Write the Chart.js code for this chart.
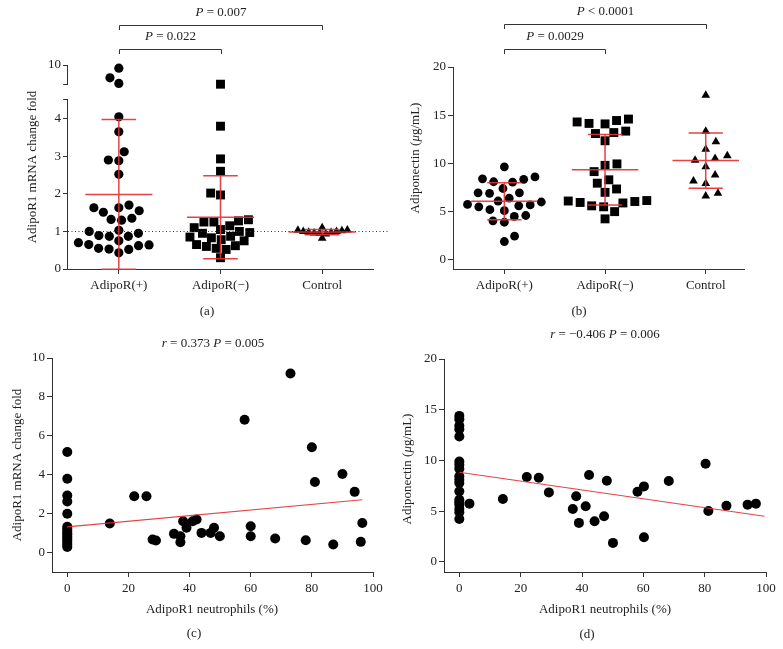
<!DOCTYPE html>
<html>
<head>
<meta charset="utf-8">
<script src="https://cdn.jsdelivr.net/npm/chart.js@4.4.1/dist/chart.umd.min.js"></script>
<style>
    html, body { margin: 0; padding: 0; background: #fff; }
    #fig { position: relative; width: 783px; height: 649px; }
    #fig canvas { position: absolute; left: 0; top: 0; }
</style>
</head>
<body>
<div id="fig">
    <canvas id="chartA" width="783" height="649"></canvas>
    <canvas id="chartB" width="783" height="649"></canvas>
    <canvas id="chartC" width="783" height="649"></canvas>
    <canvas id="chartD" width="783" height="649"></canvas>
</div>
<script>
var groups = ['AdipoR(+)', 'AdipoR(\u2212)', 'Control'];

// (a) AdipoR1 mRNA change fold
var mrnaPos = [9.2, 6.8, 5.4, 4.05, 3.65, 3.12, 2.9, 2.88, 2.52, 1.7, 1.63, 1.63, 1.55, 1.51, 1.35, 1.32, 1.3,
    1.03, 1.0, 0.95, 0.89, 0.87, 0.87, 0.75, 0.7, 0.65, 0.64, 0.62, 0.55, 0.53, 0.52, 0.43];
var mrnaNeg = [5.2, 3.8, 2.93, 2.6, 2.02, 1.97, 1.31, 1.28, 1.25, 1.25, 1.15, 1.1, 1.05, 1.0, 0.97, 0.95,
    0.87, 0.85, 0.83, 0.78, 0.75, 0.65, 0.62, 0.6, 0.55, 0.52, 0.3];
var mrnaCtrl = [1.0, 0.97, 1.02, 0.95, 1.04, 0.93, 1.0, 1.1, 0.82, 0.98, 1.03, 0.96];
var mrnaTicks = [0, 1, 2, 3, 4, 10];
var mrnaBreak = [4.5, 5];

// (b) adiponectin, ug/mL
var adipoPos = [9.65, 8.6, 8.35, 8.05, 8.1, 8.4, 7.4, 6.95, 6.9, 6.95, 6.4, 6.1, 6.0, 5.6, 5.7, 5.5, 5.75,
    5.1, 5.2, 4.6, 4.05, 3.9, 4.5, 1.9, 2.45];
var adipoNeg = [14.6, 14.3, 14.1, 14.15, 14.45, 13.35, 13.1, 13.2, 12.35, 9.8, 9.95, 9.15, 8.3, 7.95, 7.0,
    7.35, 6.05, 5.5, 5.6, 5.95, 6.1, 4.25, 5.0, 5.9, 6.15];
var adipoCtrl = [17.07, 13.34, 12.24, 11.48, 10.52, 10.34, 10.79, 9.66, 8.79, 8.17, 7.93, 6.62, 6.9];
var adipoTicks = [0, 5, 10, 15, 20];

// (c) neutrophils % vs mRNA fold
var neutroC = [0, 0, 0, 0, 0, 0, 0, 0, 0, 0, 0, 0, 0, 0, 0, 0,
    13.9, 21.9, 25.9, 27.9, 29, 34.9, 37, 37, 37.9, 39, 41, 42.3, 43.9, 46.9, 48, 49.9,
    58, 60, 60, 68, 73, 78, 80, 81, 87, 90, 94, 96, 96.5];
var mrnaC = [5.17, 3.79, 2.93, 2.62, 1.99, 1.33, 1.22, 1.12, 1.0, 0.93, 0.82, 0.72, 0.62, 0.5, 0.4, 0.29,
    1.49, 2.89, 2.89, 0.67, 0.62, 0.96, 0.84, 0.53, 1.61, 1.27, 1.61, 1.7, 1.01, 1.01, 1.27, 0.84,
    6.83, 1.35, 0.84, 0.72, 9.2, 0.63, 5.41, 3.63, 0.41, 4.04, 3.12, 0.55, 1.52];
var fitCX = [0, 96.5];
var fitCY = [1.32, 2.71];
var mrnaTicksC = [0, 2, 4, 6, 8, 10];

// (d) neutrophils % vs adiponectin
var neutroD = [0, 0, 0, 0, 0, 0, 0, 0, 0, 0, 0, 0, 0, 0, 0, 0, 0, 0,
    3.3, 14.2, 22, 25.9, 29.2, 37, 38.1, 39, 41.2, 42.3, 44.1, 47.2, 48.1, 50.1,
    58.1, 60.2, 60.2, 68.3, 80.3, 81.2, 87.1, 94, 96.7];
var adipoD = [14.39, 14.07, 13.41, 13.08, 12.36, 9.9, 9.57, 9.18, 8.43, 8.1, 7.77, 6.95, 6.13, 5.87, 5.64, 5.21, 4.89, 4.23,
    5.74, 6.2, 8.36, 8.3, 6.85, 5.21, 6.46, 3.84, 5.48, 8.56, 4.0, 4.49, 8.0, 1.87,
    6.92, 7.44, 2.43, 7.97, 9.67, 5.02, 5.54, 5.64, 5.74];
var fitDX = [0, 99.5];
var fitDY = [8.84, 4.49];
var neutroTicks = [0, 20, 40, 60, 80, 100];

var SERIF = '"Liberation Serif", "Times New Roman", serif';
var INK = '#222';
var RED = 'rgba(226, 50, 52, 0.92)';
var YW = 40, XH = 30;   // fixed axis box sizes, so plot areas land where the figure has them

Chart.defaults.font.family = SERIF;
Chart.defaults.font.size = 13;
Chart.defaults.color = INK;

// y axis with a gap between mrnaBreak[0] and mrnaBreak[1]
var BRK_LOW = 0.829, BRK_GAP = 0.073;
class BrokenScale extends Chart.LinearScale {
    getPixelForValue(v) {
        var h = this.bottom - this.top, lowH = h * BRK_LOW, gapH = h * BRK_GAP, upH = h - lowH - gapH;
        var a = mrnaBreak[0], b = mrnaBreak[1];
        if (v <= a) return this.bottom - (v - this.min) / (a - this.min) * lowH;
        if (v >= b) return this.top + (this.max - v) / (this.max - b) * upH;
        return this.bottom - lowH - (v - a) / (b - a) * gapH;
    }
    getValueForPixel(p) {
        var h = this.bottom - this.top, lowH = h * BRK_LOW, gapH = h * BRK_GAP, upH = h - lowH - gapH;
        var a = mrnaBreak[0], b = mrnaBreak[1];
        if (p >= this.bottom - lowH) return this.min + (this.bottom - p) / lowH * (a - this.min);
        if (p <= this.top + upH) return this.max - (p - this.top) / upH * (this.max - b);
        return a + (this.bottom - lowH - p) / gapH * (b - a);
    }
}
BrokenScale.id = 'broken';
BrokenScale.defaults = Chart.LinearScale.defaults;
Chart.register(BrokenScale);

function mean(v) { return v.reduce(function (s, x) { return s + x; }, 0) / v.length; }
function sd(v) {
    var m = mean(v);
    return Math.sqrt(v.reduce(function (s, x) { return s + (x - m) * (x - m); }, 0) / (v.length - 1));
}

// "*P* = 0.007" -> italic P, upright rest
function drawRuns(ctx, str, x, y, rot) {
    var parts = str.split('*');
    var font = function (i) { return (i % 2 ? 'italic ' : '') + '13px ' + SERIF; };
    ctx.save();
    ctx.translate(x, y);
    if (rot) ctx.rotate(rot);
    var total = 0;
    parts.forEach(function (p, i) { ctx.font = font(i); total += ctx.measureText(p).width; });
    var cx = -total / 2;
    ctx.fillStyle = INK;
    ctx.textAlign = 'left';
    ctx.textBaseline = 'middle';
    parts.forEach(function (p, i) { ctx.font = font(i); ctx.fillText(p, cx, 0); cx += ctx.measureText(p).width; });
    ctx.restore();
}

function decor(cfg) {
    return {
        id: 'decor',
        afterDraw: function (chart) {
            var ctx = chart.ctx, xs = chart.scales.x, ys = chart.scales.y, area = chart.chartArea;
            ctx.save();
            ctx.strokeStyle = '#333';
            ctx.lineWidth = 1;
            (cfg.brackets || []).forEach(function (b) {
                var x1 = Math.round(xs.getPixelForValue(b.from)) + 0.5, x2 = Math.round(xs.getPixelForValue(b.to)) + 0.5;
                ctx.beginPath();
                ctx.moveTo(x1, b.y + 5); ctx.lineTo(x1, b.y + 0.5); ctx.lineTo(x2, b.y + 0.5); ctx.lineTo(x2, b.y + 5);
                ctx.stroke();
                drawRuns(ctx, b.label, (x1 + x2) / 2, b.y - 12);
            });
            if (cfg.refLine != null) {
                var ry = Math.round(ys.getPixelForValue(cfg.refLine)) + 0.5;
                ctx.setLineDash([1, 2.5]);
                ctx.beginPath(); ctx.moveTo(area.left, ry); ctx.lineTo(area.right + 16, ry); ctx.stroke();
                ctx.setLineDash([]);
            }
            if (cfg.brokenAxis) {
                var ax = Math.round(area.left) - 0.5;
                ctx.beginPath();
                ctx.moveTo(ax, ys.getPixelForValue(ys.min)); ctx.lineTo(ax, ys.getPixelForValue(mrnaBreak[0]));
                ctx.moveTo(ax, ys.getPixelForValue(mrnaBreak[1])); ctx.lineTo(ax, ys.getPixelForValue(ys.max));
                ctx.stroke();
            }
            (cfg.texts || []).forEach(function (t) { drawRuns(ctx, t.s, t.x, t.y, t.rot); });
            ctx.restore();
        }
    };
}

function axis(type, min, max, ticks, labelFn, yAxis, extra) {
    var o = {
        type: type, min: min, max: max,
        border: { display: true, color: '#333', width: 1 },
        grid: { drawOnChartArea: false, drawTicks: true, tickLength: 5, tickColor: '#333' },
        ticks: { color: INK, padding: yAxis ? 2 : 4, maxRotation: 0, autoSkip: false, callback: labelFn },
        afterBuildTicks: function (s) { s.ticks = ticks.map(function (v) { return { value: v }; }); },
        afterFit: yAxis
            ? function (s) { s.width = YW; s.paddingTop = 0; s.paddingBottom = 0; }
            : function (s) { s.height = XH; s.paddingLeft = 0; s.paddingRight = 0; }
    };
    return Object.assign(o, extra || {});
}

function baseOptions(area, scales) {
    return {
        responsive: false, animation: false, events: [],
        layout: { padding: { left: area.l - YW, top: area.t, right: 783 - area.r, bottom: 649 - area.b - XH } },
        plugins: { legend: { display: false }, tooltip: { enabled: false } },
        scales: scales
    };
}

// greedy beeswarm: offsets in x units so markers of one group do not overlap
function swarm(values, pxPerUnit, toPx, sep) {
    var order = values.map(function (v, i) { return i; }).sort(function (a, b) { return values[a] - values[b]; });
    var placed = [], out = [], flip = 1;
    order.forEach(function (i) {
        var y = toPx(values[i]), cands = [0];
        placed.forEach(function (p) {
            var dy = Math.abs(p.y - y);
            if (dy < sep) { var d = Math.sqrt(sep * sep - dy * dy); cands.push(p.x + d, p.x - d); }
        });
        var ok = cands.filter(function (c) {
            return placed.every(function (p) { return (p.x - c) * (p.x - c) + (p.y - y) * (p.y - y) >= sep * sep - 0.01; });
        });
        ok.sort(function (a, b) {
            var d = Math.abs(a) - Math.abs(b);
            if (Math.abs(d) > 0.01) return d;
            return flip > 0 ? b - a : a - b;
        });
        var x = ok[0];
        if (Math.abs(x) > 0.01) flip = -flip;
        placed.push({ x: x, y: y });
        out[i] = x / pxPerUnit;
    });
    return out;
}

function errorBars(series) {
    var pts = [];
    series.forEach(function (v, i) {
        var m = mean(v), s = sd(v);
        pts.push({ x: i - 0.33, y: m }, { x: i + 0.33, y: m }, { x: i, y: null },
            { x: i, y: m - s }, { x: i, y: m + s }, { x: i, y: null },
            { x: i - 0.17, y: m + s }, { x: i + 0.17, y: m + s }, { x: i, y: null },
            { x: i - 0.17, y: m - s }, { x: i + 0.17, y: m - s }, { x: i, y: null });
    });
    return pts;
}

function dotPlot(id, cfg) {
    var datasets = [{
        type: 'line', data: errorBars(cfg.series), borderColor: RED, borderWidth: 1.5,
        pointRadius: 0, showLine: true, spanGaps: false, order: 0, clip: false
    }];
    cfg.series.forEach(function (vals, i) {
        datasets.push({
            data: vals.map(function (v) { return { x: i, y: v }; }),
            pointStyle: cfg.styles[i], pointRadius: cfg.radius[i],
            backgroundColor: '#000', borderColor: '#000', borderWidth: 0, order: 1, clip: false
        });
    });
    var xAxis = axis('linear', cfg.xMin, cfg.xMax, groups.map(function (g, i) { return i; }),
        function (v) { return groups[v] || ''; }, false);
    var chart = new Chart(document.getElementById(id), {
        type: 'scatter',
        data: { datasets: datasets },
        options: baseOptions(cfg.area, { x: xAxis, y: cfg.yAxis }),
        plugins: [decor(cfg.decor)]
    });
    var xs = chart.scales.x, ys = chart.scales.y;
    var ppu = xs.getPixelForValue(1) - xs.getPixelForValue(0);
    cfg.series.forEach(function (vals, i) {
        var off = swarm(vals, ppu, function (v) { return ys.getPixelForValue(v); }, cfg.sep[i]);
        chart.data.datasets[i + 1].data = vals.map(function (v, k) { return { x: i + off[k], y: v }; });
    });
    chart.update('none');
}

function corrPlot(id, cfg) {
    new Chart(document.getElementById(id), {
        type: 'scatter',
        data: {
            datasets: [{
                type: 'line', data: cfg.fitX.map(function (x, i) { return { x: x, y: cfg.fitY[i] }; }),
                borderColor: RED, borderWidth: 1.1, pointRadius: 0, showLine: true, order: 0
            }, {
                data: cfg.x.map(function (x, i) { return { x: x, y: cfg.y[i] }; }),
                pointStyle: 'circle', pointRadius: 5, backgroundColor: '#000', borderWidth: 0, order: 1, clip: false
            }]
        },
        options: baseOptions(cfg.area, {
            x: axis('linear', -5, 100, neutroTicks, function (v) { return String(v); }, false),
            y: axis('linear', cfg.yMin, cfg.yMax, cfg.yTicks, function (v) { return String(v); }, true)
        }),
        plugins: [decor(cfg.decor)]
    });
}

var ROT = -Math.PI / 2;

dotPlot('chartA', {
    area: { l: 68, t: 65, r: 373, b: 269 },
    xMin: -0.5, xMax: 2.5,
    series: [mrnaPos, mrnaNeg, mrnaCtrl],
    styles: ['circle', 'rect', 'triangle'],
    radius: [4.6, 6.3, 5],
    sep: [10.5, 10, 5.5],
    yAxis: axis('broken', 0, 10, mrnaTicks.concat(mrnaBreak).sort(function (a, b) { return a - b; }),
        function (v) { return mrnaTicks.indexOf(v) >= 0 ? String(v) : ''; }, true,
        { border: { display: false } }),
    decor: {
        refLine: 1, brokenAxis: true,
        brackets: [{ from: 0, to: 2, y: 25, label: '*P* = 0.007' }, { from: 0, to: 1, y: 49, label: '*P* = 0.022' }],
        texts: [{ s: 'AdipoR1 mRNA change fold', x: 33, y: 167, rot: ROT }, { s: '(a)', x: 207, y: 312 }]
    }
});

dotPlot('chartB', {
    area: { l: 453, t: 67, r: 744, b: 269 },
    xMin: -0.51, xMax: 2.38,
    series: [adipoPos, adipoNeg, adipoCtrl],
    styles: ['circle', 'rect', 'triangle'],
    radius: [4.4, 6.3, 5],
    sep: [11.5, 12, 12.5],
    yAxis: axis('linear', -0.95, 20, adipoTicks, function (v) { return String(v); }, true),
    decor: {
        brackets: [{ from: 0, to: 2, y: 24, label: '*P* < 0.0001' }, { from: 0, to: 1, y: 49, label: '*P* = 0.0029' }],
        texts: [{ s: 'Adiponectin (*\u03bc*g/mL)', x: 416, y: 158, rot: ROT }, { s: '(b)', x: 579, y: 312 }]
    }
});

corrPlot('chartC', {
    area: { l: 52, t: 358, r: 373, b: 572 },
    x: neutroC, y: mrnaC, fitX: fitCX, fitY: fitCY,
    yMin: -1, yMax: 10, yTicks: mrnaTicksC,
    decor: {
        texts: [
            { s: '*r* = 0.373 *P* = 0.005', x: 213, y: 344 },
            { s: 'AdipoR1 neutrophils (%)', x: 212, y: 610 },
            { s: 'AdipoR1 mRNA change fold', x: 18, y: 465, rot: ROT },
            { s: '(c)', x: 194, y: 634 }
        ]
    }
});

corrPlot('chartD', {
    area: { l: 444, t: 359, r: 766, b: 572 },
    x: neutroD, y: adipoD, fitX: fitDX, fitY: fitDY,
    yMin: -1, yMax: 20, yTicks: adipoTicks,
    decor: {
        texts: [
            { s: '*r* = \u22120.406 *P* = 0.006', x: 605, y: 335 },
            { s: 'AdipoR1 neutrophils (%)', x: 605, y: 610 },
            { s: 'Adiponectin (*\u03bc*g/mL)', x: 408, y: 469, rot: ROT },
            { s: '(d)', x: 587, y: 635 }
        ]
    }
});
</script>
</body>
</html>
